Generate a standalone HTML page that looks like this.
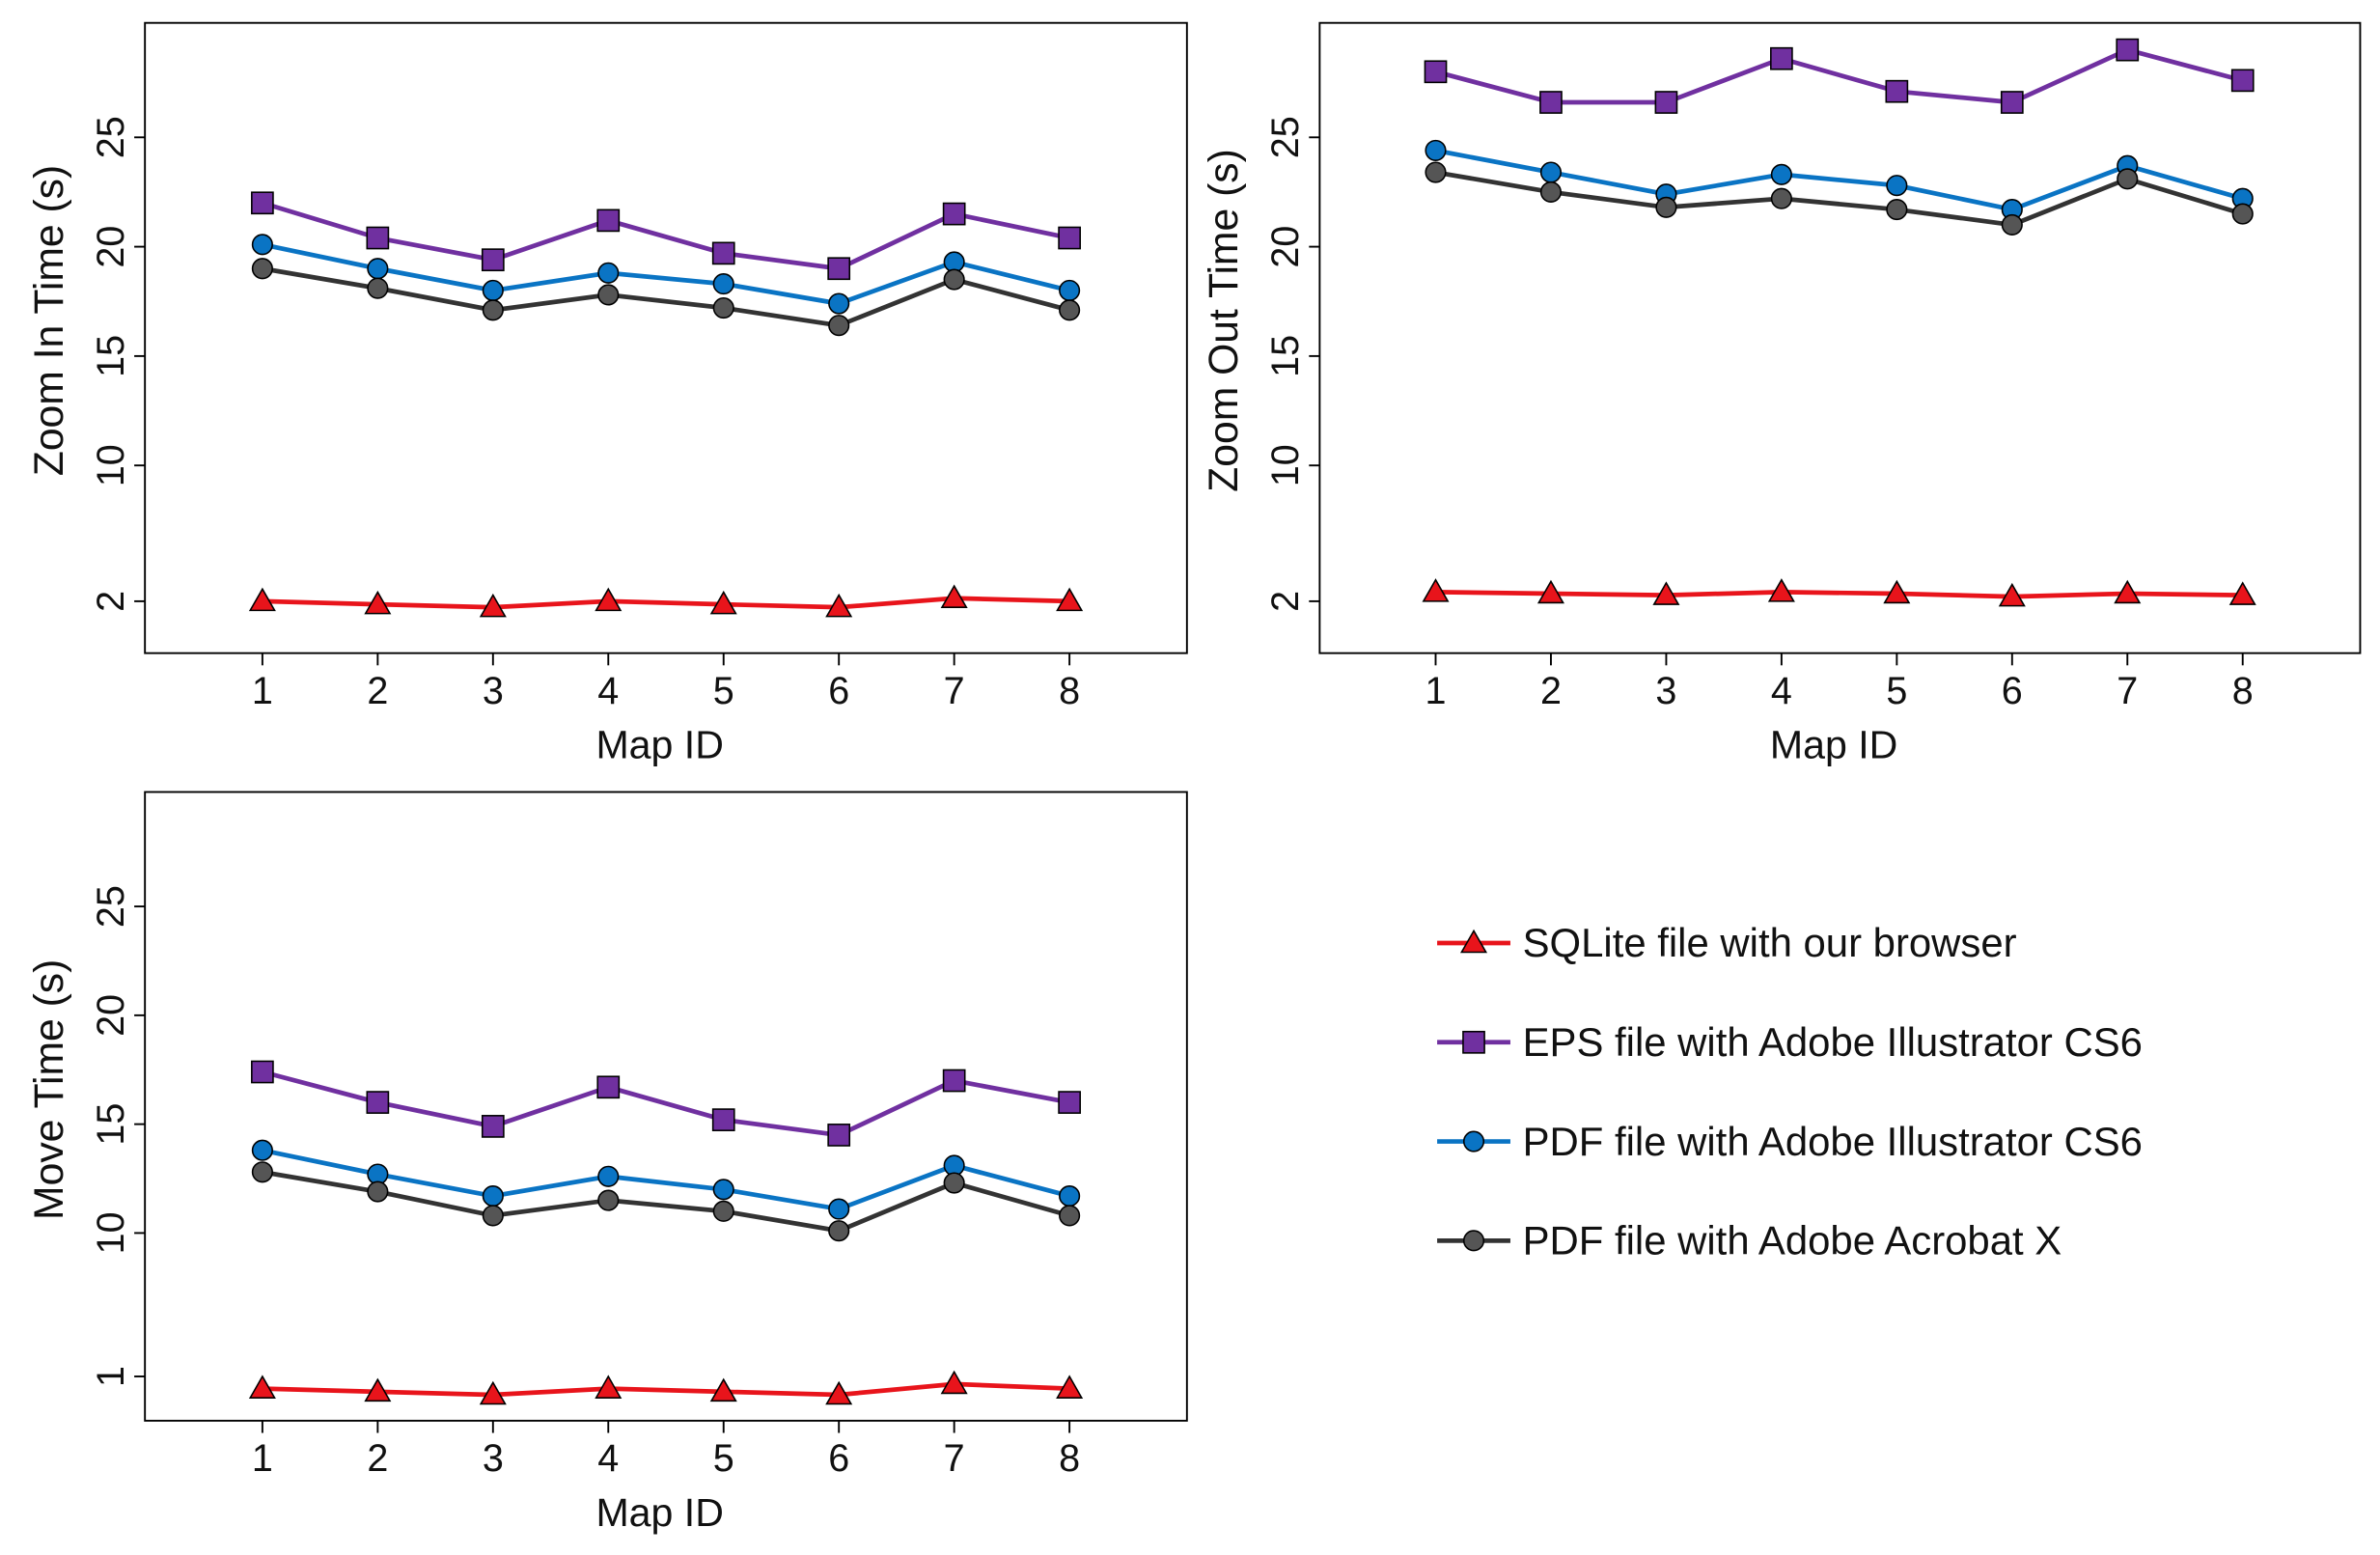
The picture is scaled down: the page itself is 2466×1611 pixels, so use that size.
<!DOCTYPE html>
<html><head><meta charset="utf-8"><style>
html,body{margin:0;padding:0;background:#fff;}
svg{display:block;font-family:"Liberation Sans",Arial,sans-serif;}
</style></head><body>
<svg id="chart" width="2466" height="1611" viewBox="0 0 1560 1019" preserveAspectRatio="none" xmlns="http://www.w3.org/2000/svg"></svg>
<script>
const mapIds = [1,2,3,4,5,6,7,8];
const yTicksTop = [2,10,15,20,25];
const yTicksBottom = [1,10,15,20,25];
const seriesNames = ["SQLite file with our browser","EPS file with Adobe Illustrator CS6","PDF file with Adobe Illustrator CS6","PDF file with Adobe Acrobat X"];
// Zoom In
const zoomInSqlite = [2.0,1.83,1.67,2.0,1.83,1.67,2.18,2.0];
const zoomInEps = [22.0,20.4,19.4,21.2,19.7,19.0,21.5,20.4];
const zoomInPdfAi = [20.1,19.0,18.0,18.8,18.3,17.4,19.3,18.0];
const zoomInPdfAcro = [19.0,18.1,17.1,17.8,17.2,16.4,18.5,17.1];
// Zoom Out
const zoomOutSqlite = [2.54,2.45,2.36,2.54,2.45,2.27,2.45,2.36];
const zoomOutEps = [28.0,26.6,26.6,28.6,27.1,26.6,29.0,27.6];
const zoomOutPdfAi = [24.4,23.4,22.4,23.3,22.8,21.7,23.7,22.2];
const zoomOutPdfAcro = [23.4,22.5,21.8,22.2,21.7,21.0,23.1,21.5];
// Move
const moveSqlite = [0.84,0.8,0.76,0.84,0.8,0.76,0.9,0.84];
const moveEps = [17.4,16.0,14.9,16.7,15.2,14.5,17.0,16.0];
const movePdfAi = [13.8,12.7,11.7,12.6,12.0,11.1,13.1,11.7];
const movePdfAcro = [12.8,11.9,10.8,11.5,11.0,10.1,12.3,10.8];

const NS="http://www.w3.org/2000/svg";
const svg=document.getElementById('chart');
function mk(tag,attrs,parent){const e=document.createElementNS(NS,tag);for(const k in attrs)e.setAttribute(k,attrs[k]);(parent||svg).appendChild(e);return e;}
const colors=["#e8141b","#7030a0","#0a74c4","#333333"];
const fills=["#e8141b","#7030a0","#0a74c4","#555555"];
const shapes=["tri","sq","circ","circ"];
function marker(g,shape,x,y,fill){
  let m;
  if(shape==="tri") m=mk('polygon',{points:`${x},${y-8} ${x-8},${y+6} ${x+8},${y+6}`,fill:fill,stroke:'#000','stroke-width':1},g);
  else if(shape==="sq") m=mk('rect',{x:x-7,y:y-7,width:14,height:14,fill:fill,stroke:'#000','stroke-width':1},g);
  else m=mk('circle',{cx:x,cy:y,r:6.5,fill:fill,stroke:'#000','stroke-width':1},g);
  return m;
}
function makeY(knotsV,knotsY){return v=>{let i=0;while(i<knotsV.length-2&&v>knotsV[i+1])i++;const t=(v-knotsV[i])/(knotsV[i+1]-knotsV[i]);return knotsY[i]+t*(knotsY[i+1]-knotsY[i]);};}
function panel(name,bx,by,bw,bh,xs,ys,ticks,title,data){
  const g=mk('g',{});
  
  
  const box=mk('rect',{x:bx,y:by,width:bw,height:bh,fill:'none',stroke:'#000','stroke-width':1.2},g);
  
  ticks.forEach(t=>{const y=ys(t);
    mk('line',{x1:bx-7,x2:bx,y1:y,y2:y,stroke:'#000','stroke-width':1.2},g);
    const tx=mk('text',{x:0,y:0,transform:`translate(${bx-14},${y}) rotate(-90)`,'text-anchor':'middle','font-size':25,fill:'#111'},g);
    tx.textContent=t;
    
  });
  mapIds.forEach(m=>{const x=xs(m);
    mk('line',{x1:x,x2:x,y1:by+bh,y2:by+bh+8,stroke:'#000','stroke-width':1.2},g);
    const tx=mk('text',{x:x,y:by+bh+33,'text-anchor':'middle','font-size':25,fill:'#111'},g);
    tx.textContent=m;
    
  });
  const xt=mk('text',{x:bx+bw/2-4,y:by+bh+69,'text-anchor':'middle','font-size':26,fill:'#111'},g);
  xt.textContent='Map ID';
  
  const yt=mk('text',{x:0,y:0,transform:`translate(${bx-54},${by+195}) rotate(-90)`,'text-anchor':'middle','font-size':27,fill:'#111'},g);
  yt.textContent=title;
  
  [1,2,3,0].forEach(si=>{
    const vals=data[si];
    const pts=vals.map((v,i)=>`${xs(mapIds[i])},${ys(v)}`).join(' ');
    const pl=mk('polyline',{points:pts,fill:'none',stroke:colors[si],'stroke-width':3},g);
    
    vals.forEach((v,i)=>{const mm=marker(g,shapes[si],xs(mapIds[i]),ys(v),fills[si]);
      });
  });
}
const xs1=m=>172+(m-1)*(701-172)/7;
const xs2=m=>941+(m-1)*(1470-941)/7;
const ysTop=makeY([1.5,2,10,25],[400,394,305,90]);
const ysBot=makeY([0.7,1,10,25],[917,902,808,594]);
const ysTop2=makeY([1.5,2,10,25],[400,394,305,90]);
panel('zoom-in-panel',95,15,683,413,xs1,ysTop,yTicksTop,'Zoom In Time (s)',[zoomInSqlite,zoomInEps,zoomInPdfAi,zoomInPdfAcro]);
panel('zoom-out-panel',865,15,682,413,xs2,ysTop2,yTicksTop,'Zoom Out Time (s)',[zoomOutSqlite,zoomOutEps,zoomOutPdfAi,zoomOutPdfAcro]);
panel('move-panel',95,519,683,412,xs1,ysBot,yTicksBottom,'Move Time (s)',[moveSqlite,moveEps,movePdfAi,movePdfAcro]);
const lg=mk('g',{});


seriesNames.forEach((n,i)=>{const y=618+i*65;
  const e=mk('g',{},lg);
  
  
  mk('line',{x1:942,x2:990,y1:y,y2:y,stroke:colors[i],'stroke-width':3},e);
  marker(e,shapes[i],966,y,fills[i]);
  const t=mk('text',{x:998,y:y+9,'font-size':26.5,fill:'#111'},e);
  t.textContent=n;
});
</script>
</body></html>
